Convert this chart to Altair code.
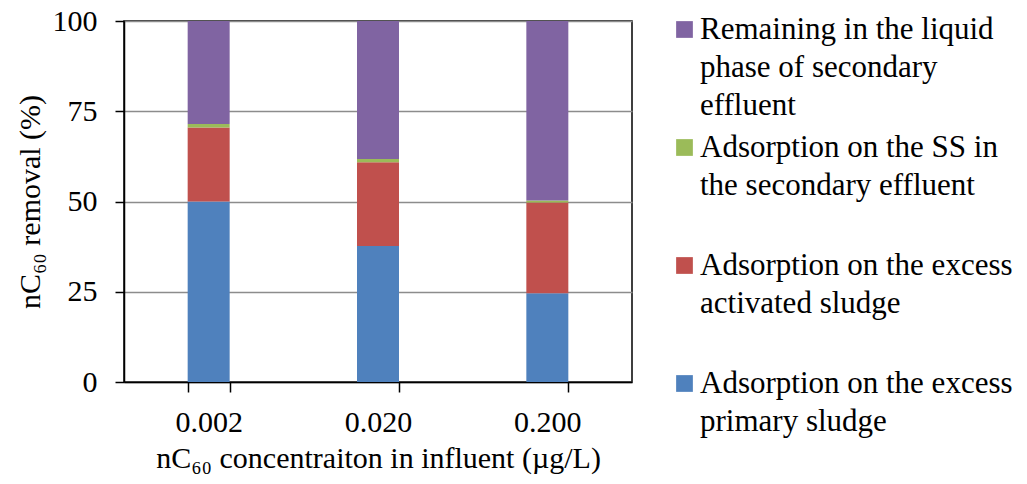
import altair as alt
import pandas as pd

concentrations = ["0.002", "0.020", "0.200"]
primary_sludge = [50.0, 37.7, 24.6]
activated_sludge = [20.5, 23.2, 25.1]
ss_effluent = [1.0, 0.9, 0.6]
remaining_liquid = [28.5, 38.2, 49.7]

components = [
    "Adsorption on the excess|primary sludge",
    "Adsorption on the excess|activated sludge",
    "Adsorption on the SS in|the secondary effluent",
    "Remaining in the liquid|phase of secondary|effluent",
]
colors = ["#4F81BD", "#C0504D", "#9BBB59", "#8064A2"]

rows = []
for k, (comp, vals) in enumerate(
    zip(components, [primary_sludge, activated_sludge, ss_effluent, remaining_liquid])
):
    for c, v in zip(concentrations, vals):
        rows.append({"conc": c, "component": comp, "value": v, "order": k})
df = pd.DataFrame(rows)

FONT = "Liberation Serif"

chart = (
    alt.Chart(df)
    .mark_bar()
    .encode(
        x=alt.X(
            "conc:N",
            sort=concentrations,
            scale=alt.Scale(paddingInner=0.752, paddingOuter=0.376),
            axis=alt.Axis(
                title="nC₆₀ concentraiton in influent (µg/L)",
                labelAngle=0,
                tickBand="extent",
                tickSize=10,
                tickColor="black",
                tickWidth=1.5,
                domainColor="black",
                domainWidth=1.5,
                labelFont=FONT,
                labelFontSize=30,
                labelColor="black",
                labelPadding=15,
                titleFont=FONT,
                titleFontSize=30,
                titleFontWeight="normal",
                titleColor="black",
                titlePadding=6,
                grid=False,
            ),
        ),
        y=alt.Y(
            "value:Q",
            stack="zero",
            scale=alt.Scale(domain=[0, 100]),
            axis=alt.Axis(
                title="nC₆₀ removal (%)",
                values=[0, 25, 50, 75, 100],
                tickSize=9,
                tickColor="black",
                tickWidth=1.5,
                domainColor="black",
                domainWidth=1.5,
                gridColor="#8c8c8c",
                gridWidth=1.5,
                labelFont=FONT,
                labelFontSize=30,
                labelColor="black",
                labelPadding=18,
                titleFont=FONT,
                titleFontSize=30,
                titleFontWeight="normal",
                titleColor="black",
                titlePadding=7,
            ),
        ),
        color=alt.Color(
            "component:N",
            scale=alt.Scale(domain=components[::-1], range=colors[::-1]),
            legend=alt.Legend(
                title=None,
                orient="none",
                legendX=545,
                legendY=-7,
                direction="vertical",
                gridAlign="all",
                rowPadding=10,
                padding=0,
                symbolType="square",
                symbolSize=280,
                symbolStrokeWidth=0,
                labelFont=FONT,
                labelFontSize=31,
                labelColor="black",
                labelLimit=600,
                labelOffset=0,
                labelBaseline="middle",
                labelExpr="split(datum.label, '|')",
            ),
        ),
        order=alt.Order("order:Q", sort="ascending"),
    )
    .properties(
        width=508,
        height=361,
        autosize=alt.AutoSizeParams(type="none"),
        padding={"left": 116, "top": 13, "right": 387, "bottom": 94},
    )
    .configure_view(stroke="black", strokeWidth=1.5)
)

patch = [
    {
        "op": "add",
        "path": "/legends/0/encode/labels/update/lineHeight",
        "value": {"value": 38},
    }
]

chart.save(
    "out.html",
    embed_options={"renderer": "svg", "actions": False, "patch": patch},
)
